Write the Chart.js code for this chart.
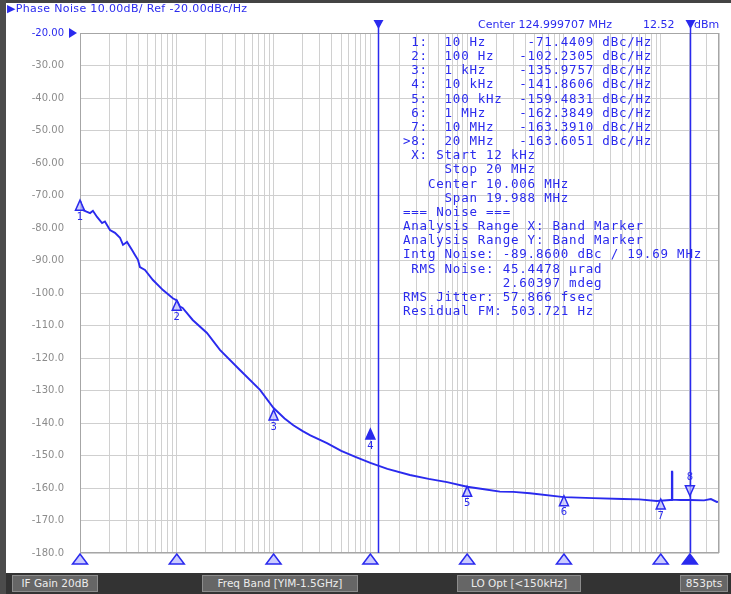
<!DOCTYPE html>
<html>
<head>
<meta charset="utf-8">
<script src="https://cdn.jsdelivr.net/npm/chart.js@4/dist/chart.umd.min.js"></script>
<style>
  body { margin: 0; background: #fff; }
  #wrap { position: relative; width: 731px; height: 594px; overflow: hidden; background: #fff; }
  canvas { position: absolute; left: 0; top: 0; }
  .txt { position: absolute; color: #2a2aee; white-space: pre; font-family: "DejaVu Sans", sans-serif; }
  #head { left: 7px; top: 2px; font-size: 11px; letter-spacing: 0.35px; }
  #center { left: 478px; top: 18px; font-size: 11px; }
  #power { left: 643px; top: 18px; font-size: 11px; }
  #dbm { left: 694px; top: 18px; font-size: 11px; }
  #table { left: 403px; top: 35px; font-family: "DejaVu Sans Mono", monospace; font-size: 12.5px;
           letter-spacing: 0.78px; line-height: 14.15px; }
  #lframe { position: absolute; left: 0; top: 0; width: 6px; height: 594px; background: #4c4c4c; }
  #tframe { position: absolute; left: 0; top: 0; width: 731px; height: 3px; background: #444; }
  #status { position: absolute; left: 6px; top: 573px; width: 725px; height: 21px; background: #333; }
  .box { position: absolute; top: 2px; height: 17px; background: #666; border: 1px solid #8c8c8c; box-sizing: border-box;
         color: #ececec; font-family: "DejaVu Sans", sans-serif; font-size: 10.5px; line-height: 15px; text-align: center; white-space: pre; }
</style>
</head>
<body>
<div id="wrap">
  <canvas id="chart" width="731" height="594"></canvas>
  <div id="tframe"></div>
  <div id="lframe"></div>
  <div class="txt" id="head">▶Phase Noise 10.00dB/ Ref -20.00dBc/Hz</div>
  <div class="txt" id="center">Center 124.999707 MHz</div>
  <div class="txt" id="power">12.52</div>
  <div class="txt" id="dbm">dBm</div>
  <div class="txt" id="table"></div>
  <div id="status">
    <div class="box" style="left:6px;width:86px">IF Gain 20dB</div>
    <div class="box" style="left:196px;width:156px">Freq Band [YIM-1.5GHz]</div>
    <div class="box" style="left:451px;width:124px">LO Opt [&lt;150kHz]</div>
    <div class="box" style="left:674px;width:48px">853pts</div>
  </div>
</div>
<script>
// phase noise trace
const freqHz = [10, 10.7, 12.7, 13.6, 15, 16.9, 18.1, 20.4, 23, 25.9, 27.8, 30.6, 34.5, 37, 39.7, 41.6, 46.9,
  56.7, 72, 91, 100, 108, 115, 146, 205, 279, 449, 724, 1000, 1300, 1600, 2000, 2400, 3560, 5000, 7000, 10000,
  15000, 25600, 40000, 62000, 100000, 150000, 218000, 300000, 446000, 1e6, 2e6, 4.07e6, 6e6, 9.1e6,
  12.5e6, 13e6, 13.04e6, 13.14e6, 13.18e6, 16e6, 20e6, 28e6, 33e6, 38e6, 40e6];
const noiseDb = [-71.4, -74.5, -75.4, -74.7, -76.6, -78.5, -78, -80.6, -81.5, -83, -85.2, -84.3, -86.8, -88.3, -89.8, -92, -92.9,
  -96, -99.1, -101.6, -102.3, -104.2, -104.6, -108.3, -112.3, -117.5, -123.7, -129.8, -135.4, -138.6, -140.7, -142.5, -143.8, -146.2, -148.6, -150.4, -152.3,
  -154.1, -156, -157.2, -158.2, -159.6, -160.4, -161.1, -161.2, -161.6, -162.8, -163.1, -163.4, -163.5, -164,
  -163.7, -163.7, -155, -155, -163.6, -163.7, -163.7, -163.8, -163.4, -164.3, -164.2];

// markers
const markerFreq = [10, 100, 1e3, 1e4, 1e5, 1e6, 1e7, 2e7];
const markerName = ["10 Hz", "100 Hz", "1 kHz", "10 kHz", "100 kHz", "1 MHz", "10 MHz", "20 MHz"];
const markerDb = [-71.4409, -102.2305, -135.9757, -141.8606, -159.4831, -162.3849, -163.3910, -163.6051];
const bandStart = 12e3;
const bandStop = 20e6;

// axes
const xMin = 10, xMax = 4e7;
const yMin = -180, yMax = -20, yStep = 10;

const infoLines = [
  " X: Start 12 kHz",
  "     Stop 20 MHz",
  "   Center 10.006 MHz",
  "     Span 19.988 MHz",
  "=== Noise ===",
  "Analysis Range X: Band Marker",
  "Analysis Range Y: Band Marker",
  "Intg Noise: -89.8600 dBc / 19.69 MHz",
  " RMS Noise: 45.4478 µrad",
  "            2.60397 mdeg",
  "RMS Jitter: 57.866 fsec",
  "Residual FM: 503.721 Hz"
];

const BLUE = "#2a2aee";

// marker table text
let rows = markerFreq.map((f, i) =>
  (i === 7 ? ">" : " ") + (i + 1) + ":  " + markerName[i].padEnd(8) +
  markerDb[i].toFixed(4).padStart(10) + " dBc/Hz");
document.getElementById("table").textContent = rows.concat(infoLines).join("\n");

function tri(ctx, cx, top, w, h, up, fill, stroke) {
  ctx.beginPath();
  if (up) {
    ctx.moveTo(cx, top); ctx.lineTo(cx + w / 2, top + h); ctx.lineTo(cx - w / 2, top + h);
  } else {
    ctx.moveTo(cx - w / 2, top); ctx.lineTo(cx + w / 2, top); ctx.lineTo(cx, top + h);
  }
  ctx.closePath();
  if (fill) { ctx.fillStyle = fill; ctx.fill(); }
  if (stroke) { ctx.strokeStyle = stroke; ctx.lineWidth = 1.5; ctx.stroke(); }
}

// frame, band marker lines, marker glyphs
const overlay = {
  id: "overlay",
  afterDatasetsDraw(chart) {
    const { ctx, chartArea: a } = chart;
    const x = chart.scales.x, y = chart.scales.y;
    ctx.save();
    ctx.strokeStyle = "#a6a6a6";
    ctx.lineWidth = 1;
    ctx.strokeRect(a.left + 0.5, a.top + 0.5, a.right - a.left - 1, a.bottom - a.top - 1);

    // reference level arrow
    const ry = y.getPixelForValue(yMax);
    ctx.beginPath();
    ctx.moveTo(a.left - 11, ry - 5); ctx.lineTo(a.left - 3, ry); ctx.lineTo(a.left - 11, ry + 5);
    ctx.closePath(); ctx.fillStyle = BLUE; ctx.fill();

    // band markers
    [bandStart, bandStop].forEach(f => {
      const px = Math.round(x.getPixelForValue(f)) + 0.5;
      ctx.strokeStyle = BLUE; ctx.lineWidth = 1.5;
      ctx.beginPath(); ctx.moveTo(px, a.top - 12); ctx.lineTo(px, a.bottom); ctx.stroke();
      tri(ctx, px, a.top - 13, 10, 9, false, BLUE, null);
    });

    ctx.font = "10px 'DejaVu Sans'";
    ctx.textAlign = "center";
    ctx.textBaseline = "middle";
    markerFreq.forEach((f, i) => {
      const px = x.getPixelForValue(f);
      const py = y.getPixelForValue(markerDb[i]);
      if (i === 7) {
        tri(ctx, px, py - 14, 9, 10, false, "rgba(190,190,255,0.7)", BLUE);
        ctx.fillStyle = BLUE; ctx.fillText(String(i + 1), px, py - 22);
      } else {
        tri(ctx, px, py, 9, 10, true, i === 3 ? BLUE : "rgba(190,190,255,0.7)", BLUE);
        ctx.fillStyle = BLUE; ctx.fillText(String(i + 1), px, py + 17);
      }
      // marker position under the axis
      tri(ctx, px, a.bottom + 1, 15, 10, true, i === 7 ? BLUE : "rgba(190,190,255,0.8)", BLUE);
    });
    ctx.restore();
  }
};

new Chart(document.getElementById("chart"), {
  type: "line",
  data: {
    datasets: [{
      data: freqHz.map((f, i) => ({ x: f, y: noiseDb[i] })),
      borderColor: BLUE,
      borderWidth: 1.9,
      pointRadius: 0,
      tension: 0
    }]
  },
  options: {
    responsive: false,
    animation: false,
    layout: { padding: { top: 33, right: 12, left: 0, bottom: 0 } },
    plugins: { legend: { display: false }, tooltip: { enabled: false } },
    scales: {
      x: {
        type: "logarithmic",
        min: xMin,
        max: xMax,
        afterBuildTicks(scale) {
          const t = [];
          for (let d = 10; d <= 1e7; d *= 10) {
            for (let m = 1; m <= 9; m++) {
              if (d * m <= xMax) t.push({ value: d * m });
            }
          }
          scale.ticks = t;
        },
        afterFit(scale) { scale.height = 41; },
        ticks: { display: false },
        grid: { color: "#d0d0d0", drawTicks: false },
        border: { display: false }
      },
      y: {
        min: yMin,
        max: yMax,
        afterFit(scale) { scale.width = 80; },
        ticks: {
          stepSize: yStep,
          padding: 16,
          font: { family: "DejaVu Sans", size: 10 },
          color: c => c.tick.value === yMax ? BLUE : "#8c8c8c",
          callback: v => v > -100 ? v.toFixed(2) : v.toFixed(1)
        },
        grid: { color: "#cfcfcf", drawTicks: false },
        border: { display: false }
      }
    }
  },
  plugins: [overlay]
});
</script>
</body>
</html>
